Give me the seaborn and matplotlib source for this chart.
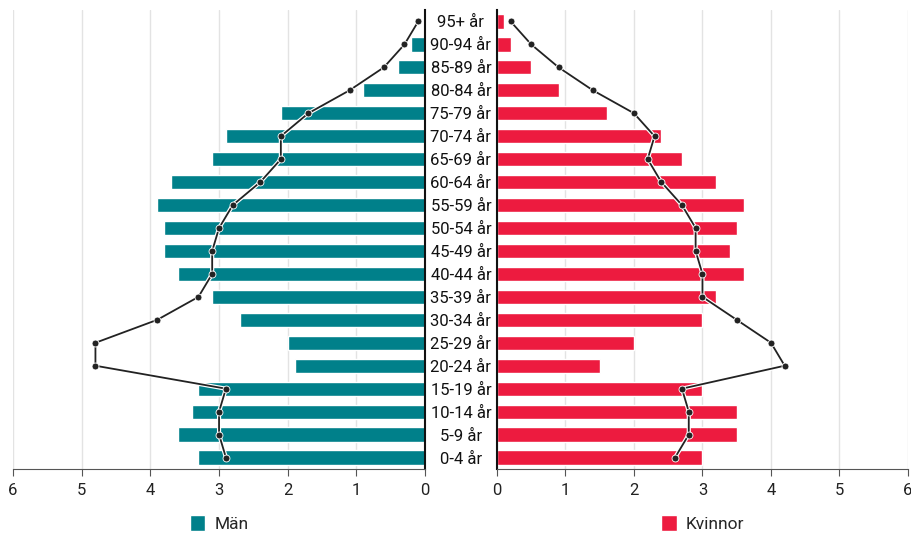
import numpy as np
import pandas as pd
import matplotlib
matplotlib.use("Agg")
import matplotlib.pyplot as plt
import matplotlib.patheffects as pe
from matplotlib.patches import Patch
import seaborn as sns

# Age groups, top to bottom
ages = ["95+ år", "90-94 år", "85-89 år", "80-84 år", "75-79 år", "70-74 år",
        "65-69 år", "60-64 år", "55-59 år", "50-54 år", "45-49 år", "40-44 år",
        "35-39 år", "30-34 år", "25-29 år", "20-24 år", "15-19 år", "10-14 år",
        "5-9 år", "0-4 år"]

# Share of population (%) - bars
men = [0.0, 0.2, 0.4, 0.9, 2.1, 2.9, 3.1, 3.7, 3.9, 3.8, 3.8, 3.6,
       3.1, 2.7, 2.0, 1.9, 3.3, 3.4, 3.6, 3.3]
women = [0.1, 0.2, 0.5, 0.9, 1.6, 2.4, 2.7, 3.2, 3.6, 3.5, 3.4, 3.6,
         3.2, 3.0, 2.0, 1.5, 3.0, 3.5, 3.5, 3.0]

# Comparison population (%) - lines
men_cmp = [0.1, 0.3, 0.6, 1.1, 1.7, 2.1, 2.1, 2.4, 2.8, 3.0, 3.1, 3.1,
           3.3, 3.9, 4.8, 4.8, 2.9, 3.0, 3.0, 2.9]
women_cmp = [0.2, 0.5, 0.9, 1.4, 2.0, 2.3, 2.2, 2.4, 2.7, 2.9, 2.9, 3.0,
             3.0, 3.5, 4.0, 4.2, 2.7, 2.8, 2.8, 2.6]

TEAL = "#00808a"
RED = "#ed1b3f"
LINE = "#222222"

sns.set_style("white")
plt.rcParams["font.family"] = ["Roboto", "DejaVu Sans"]

df = pd.DataFrame({"age": ages, "men": men, "women": women,
                   "men_cmp": men_cmp, "women_cmp": women_cmp})

fig = plt.figure(figsize=(9.11, 5.34), dpi=100)
ax_l = fig.add_axes([0.0143, 0.1217, 0.4523, 0.8596])
ax_r = fig.add_axes([0.5455, 0.1217, 0.4512, 0.8596])

pos = np.arange(len(ages))


def draw_side(ax, col, cmp_col, color, label):
    sns.barplot(data=df, x=col, y="age", order=ages, color=color,
                width=0.62, saturation=1, orient="h", ax=ax)
    # comparison line with a thin white halo, then the dots on top
    ax.plot(df[cmp_col], pos, color=LINE, lw=1.3, zorder=5,
            path_effects=[pe.Stroke(linewidth=3, foreground="white"), pe.Normal()])
    ax.plot(df[cmp_col], pos, ls="none", marker="o", ms=5, mfc=LINE,
            mec="white", mew=0.6, zorder=6)
    ax.set_ylim(19.5, -0.5)
    ax.set_xticks(range(0, 7))
    ax.xaxis.grid(True, color="#e3e3e3", lw=1)
    ax.set_axisbelow(True)
    ax.set_xlabel("")
    ax.set_ylabel("")
    ax.spines["top"].set_visible(False)
    ax.spines["bottom"].set_color("#555555")
    ax.tick_params(axis="x", bottom=True, length=5, color="#555555",
                   labelsize=12, labelcolor="#222222", pad=5)
    ax.legend(handles=[Patch(facecolor=color, label=label)], loc="center",
              bbox_to_anchor=(0.5, -0.118), frameon=False, fontsize=12.5,
              handlelength=0.9, handleheight=1.1, handletextpad=0.5)


draw_side(ax_l, "men", "men_cmp", TEAL, "Män")
ax_l.set_xlim(6, 0)
ax_l.spines["left"].set_visible(False)
ax_l.spines["right"].set_color("#111111")
ax_l.spines["right"].set_linewidth(1.5)
ax_l.set_yticks([])

draw_side(ax_r, "women", "women_cmp", RED, "Kvinnor")
ax_r.set_xlim(0, 6)
ax_r.spines["right"].set_visible(False)
ax_r.spines["left"].set_color("#111111")
ax_r.spines["left"].set_linewidth(1.5)
ax_r.set_yticks(pos)
ax_r.set_yticklabels(ages)
ax_r.tick_params(axis="y", length=0, pad=26, labelsize=12, labelcolor="#111111")
for t in ax_r.get_yticklabels():
    t.set_horizontalalignment("center")

fig.savefig("out.png", dpi=100)
